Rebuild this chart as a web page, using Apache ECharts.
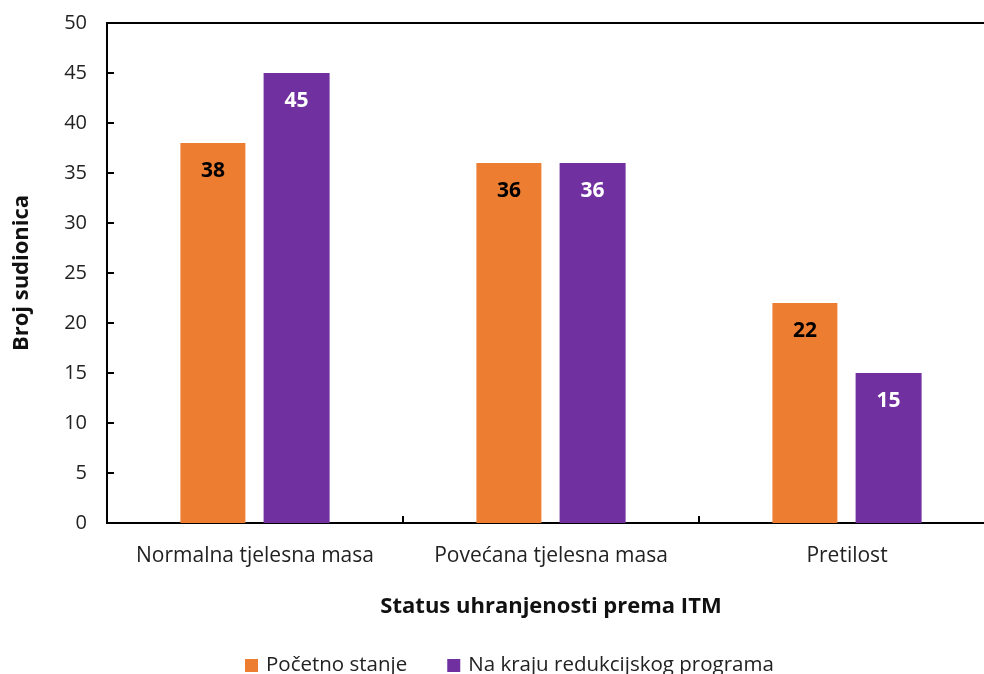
<!DOCTYPE html>
<html><head><meta charset="utf-8">
<script src="https://cdn.jsdelivr.net/npm/echarts@6/dist/echarts.min.js"></script>
<style>html,body{margin:0;padding:0;background:#fff}#c{width:984px;height:674px}</style>
</head><body><div id="c"></div>
<script>
const categories = ['Normalna tjelesna masa', 'Povećana tjelesna masa', 'Pretilost'];
const seriesNames = ['Početno stanje', 'Na kraju redukcijskog programa'];
const initialValues = [38, 36, 22];
const finalValues = [45, 36, 15];
const yTicks = [0, 50, 5];

const font = '"Open Sans", "Noto Sans", sans-serif';
const chart = echarts.init(document.getElementById('c'));
chart.setOption({
  animation: false,
  textStyle: { fontFamily: font },
  grid: { left: 107, width: 888, top: 23, height: 500, containLabel: false, outerBoundsMode: 'none',
          show: true, borderColor: '#000', borderWidth: 2 },
  legend: {
    top: 650, left: 240, itemWidth: 13, itemHeight: 13, itemGap: 40, icon: 'rect',
    textStyle: { fontSize: 20.5, color: '#222', fontFamily: font, padding: [0, 0, 0, 3] },
    data: seriesNames
  },
  xAxis: {
    type: 'category', data: categories,
    name: 'Status uhranjenosti prema ITM', nameLocation: 'middle', nameGap: 73,
    nameTextStyle: { fontSize: 22, fontWeight: 'bold', color: '#111', fontFamily: font },
    axisLine: { lineStyle: { color: '#000', width: 2 } },
    axisTick: { show: true, inside: true, length: 7, interval: 0, lineStyle: { color: '#000', width: 2 } },
    axisLabel: { fontSize: 21, color: '#222', margin: 23, interval: 0, hideOverlap: false, fontFamily: font }
  },
  yAxis: {
    type: 'value', min: yTicks[0], max: yTicks[1], interval: yTicks[2],
    name: 'Broj sudionica', nameLocation: 'middle', nameGap: 74,
    nameTextStyle: { fontSize: 22, fontWeight: 'bold', color: '#111', fontFamily: font },
    axisLine: { show: true, lineStyle: { color: '#000', width: 2 } },
    axisTick: { show: true, inside: true, length: 7, lineStyle: { color: '#000', width: 2 } },
    splitLine: { show: false },
    axisLabel: { fontSize: 20, color: '#222', margin: 20, fontFamily: font }
  },
  series: [
    {
      name: seriesNames[0], type: 'bar', data: initialValues, barWidth: 65, barGap: '28%',
      itemStyle: { color: '#ED7D31' },
      label: { show: true, position: 'insideTop', distance: 18, fontSize: 21, fontWeight: 'bold', color: '#000', fontFamily: font }
    },
    {
      name: seriesNames[1], type: 'bar', data: finalValues, barWidth: 66,
      itemStyle: { color: '#7030A0' },
      label: { show: true, position: 'insideTop', distance: 18, fontSize: 21, fontWeight: 'bold', color: '#fff', fontFamily: font }
    }
  ]
});
</script></body></html>
